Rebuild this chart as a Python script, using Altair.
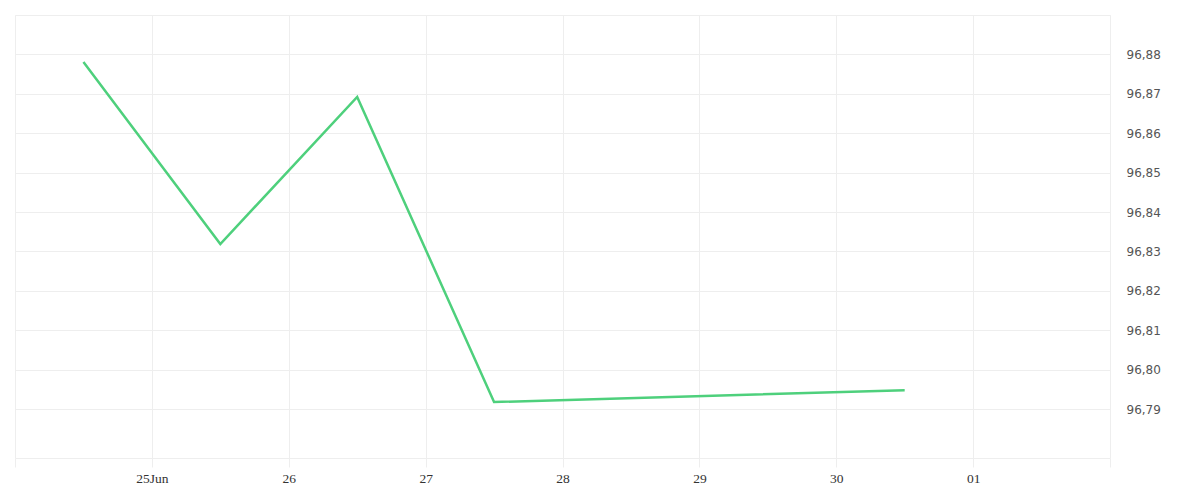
import altair as alt
import pandas as pd

dates = ["2024-06-24T12:00:00Z", "2024-06-25T12:00:00Z", "2024-06-26T12:00:00Z",
         "2024-06-27T12:00:00Z", "2024-06-30T12:00:00Z"]
values = [96.8781, 96.8319, 96.8692, 96.7918, 96.7948]
y_ticks = [96.79, 96.80, 96.81, 96.82, 96.83, 96.84, 96.85, 96.86, 96.87, 96.88, 96.89]
x_days = [24, 25, 26, 27, 28, 29, 30, 31, 32]

df = pd.DataFrame({"date": dates, "value": values})

def dt(d):
    if d > 30:
        return alt.DateTime(year=2024, month=7, date=d - 30, utc=True)
    return alt.DateTime(year=2024, month=6, date=d, utc=True)

x_vals = [dt(d) for d in x_days]

chart = alt.Chart(df).mark_line(color="#4ed07c", strokeWidth=2.5).encode(
    x=alt.X("date:T",
            scale=alt.Scale(type="utc", domain=[dt(24), dt(32)], nice=False),
            axis=alt.Axis(values=x_vals, title=None, grid=True, gridColor="#eeeeee",
                          tickColor="#eeeeee", tickSize=9, domain=False,
                          labelFont="Liberation Serif", labelFontSize=13.5, labelColor="#333333",
                          labelPadding=4, labelFlush=False, labelOverlap=False,
                          labelExpr="(utcFormat(datum.value, '%m-%d') == '06-24' || utcFormat(datum.value, '%m-%d') == '07-02') ? '' : (utcFormat(datum.value, '%d') == '25' ? '25Jun' : utcFormat(datum.value, '%d'))")),
    y=alt.Y("value:Q",
            scale=alt.Scale(domain=[96.7776, 96.89], nice=False, zero=False),
            axis=alt.Axis(orient="right", values=y_ticks, title=None, grid=True,
                          gridColor="#eeeeee", ticks=False, domain=False,
                          labelFont="DejaVu Sans", labelFontSize=12, labelColor="#555555",
                          labelPadding=16, labelBaseline="middle",
                          labelExpr="datum.value > 96.885 ? '' : replace(format(datum.value, '.2f'), '.', ',')")),
).properties(
    width=1095, height=443,
    autosize=alt.AutoSizeParams(type="none"),
    padding={"left": 7, "top": 7, "right": 82, "bottom": 34},
).configure_view(stroke="#eeeeee")

chart.save("out.html", embed_options={"renderer": "svg", "actions": False})
